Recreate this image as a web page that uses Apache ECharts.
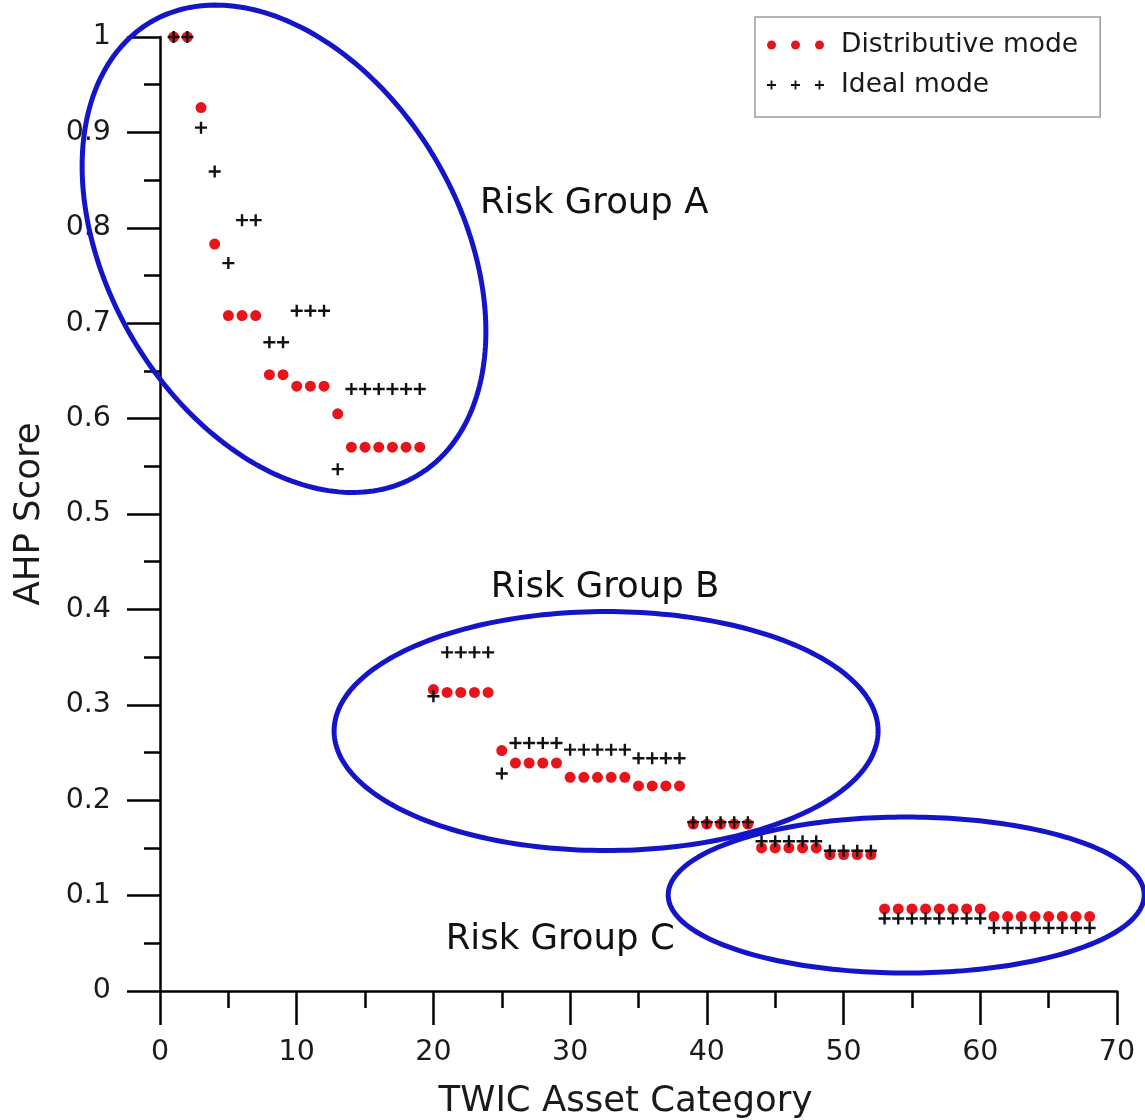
<!DOCTYPE html>
<html>
<head>
<meta charset="utf-8">
<script src="https://cdn.jsdelivr.net/npm/echarts@6/dist/echarts.min.js"></script>
<style>
html,body{margin:0;padding:0;background:#fff;}
#chart{width:1145px;height:1120px;}
</style>
</head>
<body>
<div id="chart"></div>
<script>
// ---- Data ----
const assetCategory = [1,2,3,4,5,6,7,8,9,10,11,12,13,14,15,16,17,18,19,20,
  21,22,23,24,25,26,27,28,29,30,31,32,33,34,35,36,37,38,39,40,
  41,42,43,44,45,46,47,48,49,50,51,52,53,54,55,56,57,58,59,60,
  61,62,63,64,65,66,67,68];

const distributiveMode = [1.000,1.000,0.926,0.783,0.708,0.708,0.708,0.646,0.646,0.634,
  0.634,0.634,0.605,0.570,0.570,0.570,0.570,0.570,0.570,0.316,
  0.313,0.313,0.313,0.313,0.252,0.239,0.239,0.239,0.239,0.224,
  0.224,0.224,0.224,0.224,0.215,0.215,0.215,0.215,0.175,0.175,
  0.175,0.175,0.175,0.150,0.150,0.150,0.150,0.150,0.143,0.143,
  0.143,0.143,0.086,0.086,0.086,0.086,0.086,0.086,0.086,0.086,
  0.078,0.078,0.078,0.078,0.078,0.078,0.078,0.078];

const idealMode = [1.000,1.000,0.905,0.859,0.763,0.808,0.808,0.680,0.680,0.713,
  0.713,0.713,0.547,0.631,0.631,0.631,0.631,0.631,0.631,0.309,
  0.355,0.355,0.355,0.355,0.228,0.260,0.260,0.260,0.260,0.253,
  0.253,0.253,0.253,0.253,0.244,0.244,0.244,0.244,0.177,0.177,
  0.177,0.177,0.177,0.157,0.157,0.157,0.157,0.157,0.147,0.147,
  0.147,0.147,0.076,0.076,0.076,0.076,0.076,0.076,0.076,0.076,
  0.066,0.066,0.066,0.066,0.066,0.066,0.066,0.066];

const groupNames = ['Risk Group A', 'Risk Group B', 'Risk Group C'];
const groupLabelX = [31.76, 32.56, 29.27];
const groupLabelY = [0.825, 0.4224, 0.0535];
const groupCenterX = [9.07, 32.63, 54.58];
const groupCenterY = [0.778, 0.2725, 0.1006];

// ---- Annotation geometry (pixels) ----
const ellipseGeom = [
  {a: 263, b: 176, angle: 59.6},
  {a: 272, b: 119.5, angle: 0},
  {a: 238, b: 78, angle: 0}
];

const FONT = 'DejaVu Sans';
const RED = '#e8141b';
const BLUE = '#1414c8';

const crossPath = 'path://M4.8,0H7.2V4.8H12V7.2H7.2V12H4.8V7.2H0V4.8H4.8Z';
function circ(cx) { return 'M' + (cx - 4.5) + ',4.5a4.5,4.5 0 1,0 9,0a4.5,4.5 0 1,0 -9,0Z'; }
const legendDots = 'path://' + circ(4.5) + circ(28.5) + circ(52.5);
function plus(cx) {
  const t = 0.9, h = 4.5;
  return 'M' + (cx - t) + ',0H' + (cx + t) + 'V' + (h - t) + 'H' + (cx + h) + 'V' + (h + t) +
    'H' + (cx + t) + 'V9H' + (cx - t) + 'V' + (h + t) + 'H' + (cx - h) + 'V' + (h - t) + 'H' + (cx - t) + 'Z';
}
const legendCrosses = 'path://' + plus(4.5) + plus(28.5) + plus(52.5);

const distData = assetCategory.map((x, i) => [x, distributiveMode[i]]);
const idealData = assetCategory.map((x, i) => [x, idealMode[i]]);
const ellipseData = groupCenterX.map((x, i) => [x, groupCenterY[i]]);
const labelData = groupNames.map((n, i) => [groupLabelX[i], groupLabelY[i]]);

const chart = echarts.init(document.getElementById('chart'), null, {renderer: 'canvas'});
chart.setOption({
  animation: false,
  backgroundColor: '#ffffff',
  grid: {left: 160, right: 28, top: 37, bottom: 129, containLabel: false, outerBoundsMode: 'none'},
  legend: {
    orient: 'vertical',
    left: 755, top: 17,
    padding: [13, 22, 17, 12],
    itemGap: 10,
    itemWidth: 57, itemHeight: 9,
    borderColor: '#9a9a9a', borderWidth: 1.5,
    backgroundColor: '#fff',
    selectedMode: false,
    textStyle: {fontFamily: FONT, fontSize: 26.5, color: '#1a1a1a', lineHeight: 30, padding: [0, 0, 0, 12]},
    data: [
      {name: 'Distributive mode', icon: legendDots},
      {name: 'Ideal mode', icon: legendCrosses}
    ]
  },
  xAxis: {
    type: 'value', min: 0, max: 70, interval: 10,
    name: 'TWIC Asset Category', nameLocation: 'middle', nameGap: 93,
    nameTextStyle: {fontFamily: FONT, fontSize: 35.5, color: '#1a1a1a', padding: [0, 26, 0, 0]},
    axisLine: {show: true, onZero: false, lineStyle: {color: '#000', width: 2.5}},
    axisTick: {show: true, length: 34, lineStyle: {color: '#000', width: 2.5}},
    minorTick: {show: true, splitNumber: 2, length: 17, lineStyle: {color: '#000', width: 2.5}},
    splitLine: {show: false},
    axisLabel: {fontFamily: FONT, fontSize: 28.5, color: '#1a1a1a', margin: 47}
  },
  yAxis: {
    type: 'value', min: 0, max: 1, interval: 0.1,
    name: 'AHP Score', nameLocation: 'middle', nameGap: 112,
    nameTextStyle: {fontFamily: FONT, fontSize: 35.5, color: '#1a1a1a'},
    axisLine: {show: true, onZero: false, lineStyle: {color: '#000', width: 2.5}},
    axisTick: {show: true, length: 33, lineStyle: {color: '#000', width: 2.5}},
    minorTick: {show: true, splitNumber: 2, length: 16, lineStyle: {color: '#000', width: 2.5}},
    splitLine: {show: false},
    axisLabel: {fontFamily: FONT, fontSize: 28.5, color: '#1a1a1a', margin: 49}
  },
  series: [
    {
      name: 'Distributive mode', type: 'scatter', data: distData,
      symbol: 'circle', symbolSize: 11, clip: false,
      itemStyle: {color: RED, opacity: 1}, z: 3
    },
    {
      name: 'Ideal mode', type: 'scatter', data: idealData,
      symbol: crossPath, symbolSize: 12, clip: false,
      itemStyle: {color: '#111', opacity: 1}, z: 4
    },
    {
      name: 'groups', type: 'custom', data: ellipseData, clip: false, silent: true, z: 5,
      renderItem: function (params, api) {
        const c = api.coord([api.value(0), api.value(1)]);
        const g = ellipseGeom[params.dataIndex];
        const th = g.angle * Math.PI / 180;
        const ct = Math.cos(th), st = Math.sin(th);
        const pts = [];
        for (let k = 0; k < 240; k++) {
          const t = k / 240 * Math.PI * 2;
          const u = g.a * Math.cos(t), v = g.b * Math.sin(t);
          pts.push([c[0] + u * ct - v * st, c[1] + u * st + v * ct]);
        }
        return {
          type: 'polygon', shape: {points: pts},
          style: {fill: 'none', stroke: BLUE, lineWidth: 5}
        };
      }
    },
    {
      name: 'groupLabels', type: 'custom', data: labelData, clip: false, silent: true, z: 6,
      renderItem: function (params, api) {
        const c = api.coord([api.value(0), api.value(1)]);
        return {
          type: 'text', x: c[0], y: c[1],
          style: {
            text: groupNames[params.dataIndex],
            fill: '#111',
            fontFamily: FONT, fontSize: 35.5,
            align: 'center', verticalAlign: 'middle'
          }
        };
      }
    }
  ]
});
</script>
</body>
</html>
